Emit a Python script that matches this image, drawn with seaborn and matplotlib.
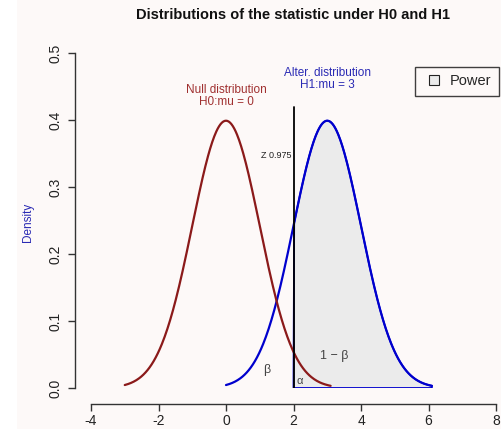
import numpy as np
import pandas as pd
import matplotlib
matplotlib.use("Agg")
import matplotlib.pyplot as plt
import seaborn as sns
from matplotlib.patches import Rectangle
from matplotlib.lines import Line2D

sns.set_style("ticks")
plt.rcParams['font.family'] = ['Liberation Sans', 'DejaVu Sans']

# Parameters of the two distributions (from labels)
mu0 = 0.0
mu1 = 3.0
sd = 1.0
z_crit = 2.0            # critical value shown (Z 0.975 line position)
null_range = [-3.0, 3.1]
alt_range = [0.0, 6.1]
x_ticks = [-4, -2, 0, 2, 4, 6, 8]
y_ticks = [0.0, 0.1, 0.2, 0.3, 0.4, 0.5]


def npdf(x, mu, s):
    return np.exp(-0.5 * ((x - mu) / s) ** 2) / (s * np.sqrt(2 * np.pi))


x0 = np.linspace(null_range[0], null_range[1], 300)
x1 = np.linspace(alt_range[0], alt_range[1], 300)
df0 = pd.DataFrame({"x": x0, "y": npdf(x0, mu0, sd)})
df1 = pd.DataFrame({"x": x1, "y": npdf(x1, mu1, sd)})

W, H = 501, 429
fig = plt.figure(figsize=(W / 100, H / 100), dpi=100)
fig.patch.set_facecolor("white")
fig.patches.append(Rectangle((17 / W, 0), 1 - 17 / W, 1, transform=fig.transFigure,
                             facecolor="#fdf9f8", edgecolor="none", zorder=-10))

ax = fig.add_axes([91 / W, 1 - 388 / H, 405 / W, 335 / H])
ax.set_facecolor("none")

# Power region
mask = df1["x"] >= z_crit
px = np.concatenate([[z_crit], df1["x"][mask].values, [alt_range[1]]])
py = np.concatenate([[0], df1["y"][mask].values, [0]])
ax.fill(px, py, facecolor="#ebebeb", edgecolor="#0000cd", linewidth=1.3, zorder=1)

sns.lineplot(data=df0, x="x", y="y", ax=ax, color="#8b1a1a", linewidth=1.6, zorder=3)
sns.lineplot(data=df1, x="x", y="y", ax=ax, color="#0000cd", linewidth=1.6, zorder=2)

ax.plot([z_crit, z_crit], [0, 0.42], color="black", linewidth=1.3, zorder=4)

ax.set_xlim(-4, 8)
ax.set_ylim(0, 0.5)
ax.set_xticks(x_ticks)
ax.set_yticks(y_ticks)
ax.set_xticklabels([str(t) for t in x_ticks], fontsize=8.5)
ax.set_yticklabels([f"{t:.1f}" for t in y_ticks], fontsize=8.5)
for s in ["top", "right"]:
    ax.spines[s].set_visible(False)
ax.spines["left"].set_position(("outward", 11.5))
ax.spines["bottom"].set_position(("outward", 11.5))
ax.spines["left"].set_bounds(0, 0.5)
ax.spines["bottom"].set_bounds(-4, 8)
for s in ["left", "bottom"]:
    ax.spines[s].set_color("#333333")
    ax.spines[s].set_linewidth(1.0)
ax.tick_params(axis="both", length=5, width=1.0, color="#333333", labelcolor="#222222")
ax.tick_params(axis="x", pad=2.5)
ax.tick_params(axis="y", pad=4, labelrotation=90)
ax.set_xlabel("")
ax.set_ylabel("")

fig.text(28 / W, 1 - 222 / H, "Density", rotation=90, ha="center", va="center",
         fontsize=8.5, color="#2a2ab4")

fig.text(293 / W, 1 - 15 / H, "Distributions of the statistic under H0 and H1",
         ha="center", va="center", fontsize=10.5, fontweight="bold", color="#111111")

ax.text(mu0, 0.436, "Null distribution\nH0:mu = 0", ha="center", va="center",
        fontsize=8.5, color="#a03030", linespacing=1.05)
ax.text(mu1, 0.461, "Alter. distribution\nH1:mu = 3", ha="center", va="center",
        fontsize=8.5, color="#2a2ab4", linespacing=1.05)
ax.text(1.95, 0.347, "Z 0.975", ha="right", va="center", fontsize=6.5, color="#222222")
ax.text(1.2, 0.027, "β", ha="center", va="center", fontsize=9, color="#444444")
ax.text(3.2, 0.048, "1 − β", ha="center", va="center", fontsize=9, color="#444444")
ax.text(2.18, 0.010, "α", ha="center", va="center", fontsize=8, color="#444444")

handle = Line2D([], [], linestyle="none", marker="s", markersize=7.5,
                markerfacecolor="#ebebeb", markeredgecolor="#222222",
                markeredgewidth=0.8, label="Power")
leg = fig.legend(handles=[handle],
                 loc="upper right", bbox_to_anchor=(499 / W, 1 - 67 / H), fontsize=10.5,
                 frameon=True, fancybox=False, handlelength=1.6,
                 borderpad=0.5, handletextpad=0.3, borderaxespad=0)
leg.get_frame().set_edgecolor("#111111")
leg.get_frame().set_linewidth(1.0)
leg.get_frame().set_facecolor("#fdf9f8")

for lbl in ax.get_yticklabels():
    lbl.set_va("center")

fig.savefig("out.png", dpi=100)
